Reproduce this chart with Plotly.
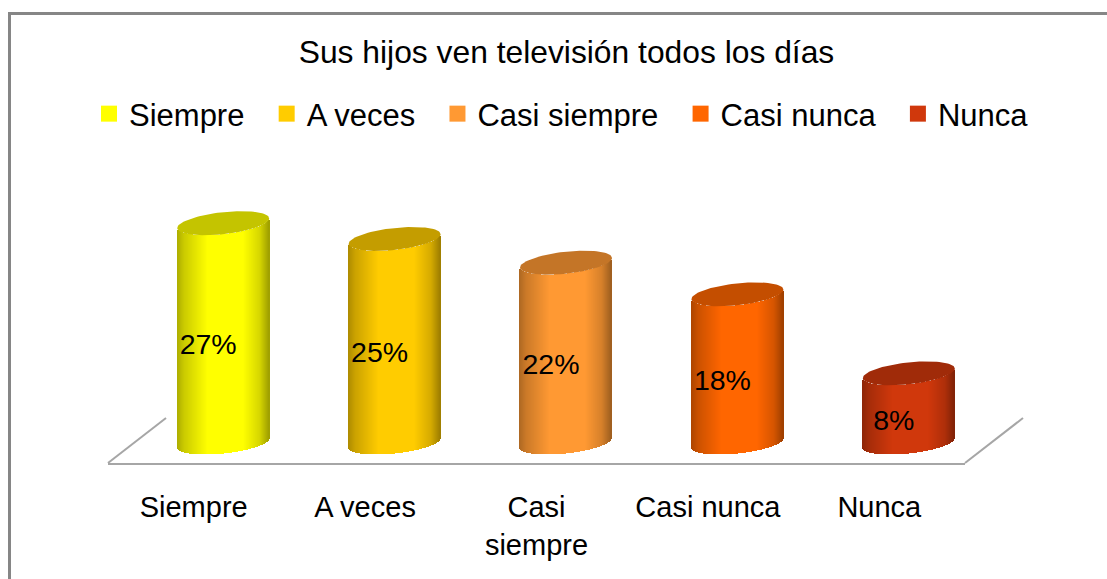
import plotly.graph_objects as go
import numpy as np

# --- DATA ---
title = "Sus hijos ven televisión todos los días"
categories = ["Siempre", "A veces", "Casi siempre", "Casi nunca", "Nunca"]
tick_labels = ["Siempre", "A veces", "Casi<br>siempre", "Casi nunca", "Nunca"]
values = [27, 25, 22, 18, 8]
colors = ["#ffff00", "#ffcc00", "#ff9933", "#ff6600", "#d0380c"]

# --- GEOMETRY (page pixels) ---
W, H = 1107, 579
LEFT, RIGHT, FLOOR = 108, 965, 463
PX_PER_UNIT = 7.9          # y axis scale
PX_PER_CAT = (RIGHT - LEFT) / 5
Y_MIN = -26.5 / PX_PER_UNIT
Y_MAX = Y_MIN + FLOOR / PX_PER_UNIT
CYL_BASE = -0.76           # cylinders stand a bit under zero, like the 3D original
DEPTH = 29.5 / PX_PER_CAT  # cylinders sit back from their tick
RX, RY, TILT = 46, 11, 4.75  # ellipse: half width, half height, slant over half width


def shade(hex_color, factor):
    r, g, b = [int(hex_color[i:i + 2], 16) for i in (1, 3, 5)]
    return f"rgb({int(r * factor)},{int(g * factor)},{int(b * factor)})"


def light(t):
    # dark edges, flat bright middle
    return np.interp(t, [0, 0.08, 0.33, 0.72, 0.9, 1], [0.68, 0.8, 1, 1, 0.84, 0.62])


fig = go.Figure()
dx = np.arange(-RX + 0.5, RX, 1.0)
theta = np.linspace(0, 2 * np.pi, 90)

for i, (v, col) in enumerate(zip(values, colors)):
    cx = i + DEPTH
    curve = (RY * np.sqrt(1 - (dx / RX) ** 2) - TILT * dx / RX) / PX_PER_UNIT
    # side of the cylinder: one thin bar per pixel column for the shading
    fig.add_trace(go.Bar(
        x=cx + dx / PX_PER_CAT,
        base=CYL_BASE - curve,
        y=np.full(dx.shape, v - CYL_BASE),
        width=1.4 / PX_PER_CAT,
        marker=dict(color=[shade(col, light((d + RX) / (2 * RX))) for d in dx], line_width=0),
        showlegend=False, hoverinfo="skip",
    ))
    # top cap
    fig.add_trace(go.Scatter(
        x=cx + RX * np.cos(theta) / PX_PER_CAT,
        y=v + (RY * np.sin(theta) + TILT * np.cos(theta)) / PX_PER_UNIT,
        mode="lines", fill="toself", fillcolor=shade(col, 0.77), line=dict(width=0),
        showlegend=False, hoverinfo="skip",
    ))

# data labels
fig.add_trace(go.Scatter(
    x=[i + DEPTH - 15 / PX_PER_CAT for i in range(len(values))],
    y=[(v + CYL_BASE) / 2 - 14.5 / PX_PER_UNIT for v in values],
    text=[f"{v}%" for v in values],
    mode="text", textposition="middle center",
    textfont=dict(size=28.5, color="black"),
    showlegend=False, hoverinfo="skip",
))

# legend entries (trailing spaces widen the gap between items)
for name, col in zip(categories, colors):
    fig.add_trace(go.Scatter(
        x=[None], y=[None], mode="markers", name=name + "\u00a0\u00a0",
        marker=dict(symbol="square", size=16, color=col),
    ))

px = lambda p: p / W
py = lambda p: (FLOOR - p) / FLOOR
frame = "#868686"
floor_col = "#a6a6a6"

fig.update_layout(
    width=W, height=H, barmode="overlay", bargap=0,
    paper_bgcolor="white", plot_bgcolor="rgba(0,0,0,0)",
    font=dict(family="Liberation Sans, Arial, sans-serif", color="black"),
    margin=dict(l=0, r=0, t=0, b=H - FLOOR, autoexpand=False),
    title=dict(text=title, font=dict(size=31.8), x=566.5 / W, xanchor="center",
               y=1 - 52 / H, yanchor="middle"),
    legend=dict(orientation="h", xref="container", yref="container", x=89 / W, xanchor="left",
                y=1 - 114 / H, yanchor="middle",
                font=dict(size=31), bgcolor="rgba(0,0,0,0)", itemclick=False),
    xaxis=dict(domain=[px(LEFT), px(RIGHT)], range=[-0.5, 4.5], tickmode="array",
               tickvals=list(range(5)), ticktext=tick_labels,
               tickfont=dict(size=29), ticks="outside", ticklen=17, tickcolor="rgba(0,0,0,0)",
               showline=True, linecolor=floor_col, linewidth=2, showgrid=False, zeroline=False,
               fixedrange=True),
    yaxis=dict(range=[Y_MIN, Y_MAX], visible=False, fixedrange=True),
    shapes=[
        # side edges of the 3D floor
        dict(type="line", xref="paper", yref="paper", x0=px(LEFT), y0=py(FLOOR), x1=px(166), y1=py(418),
             line=dict(color=floor_col, width=2)),
        dict(type="line", xref="paper", yref="paper", x0=px(RIGHT), y0=py(FLOOR), x1=px(1023), y1=py(418),
             line=dict(color=floor_col, width=2)),
        # outer frame, open at the right and bottom
        dict(type="line", xref="paper", yref="paper", x0=px(8), y0=py(13.5), x1=px(W), y1=py(13.5),
             line=dict(color=frame, width=3)),
        dict(type="line", xref="paper", yref="paper", x0=px(9.5), y0=py(12), x1=px(9.5), y1=py(H),
             line=dict(color=frame, width=3)),
    ],
)

fig.write_html("out.html", config={"displayModeBar": False},
               post_script="document.body.style.margin='0';")
